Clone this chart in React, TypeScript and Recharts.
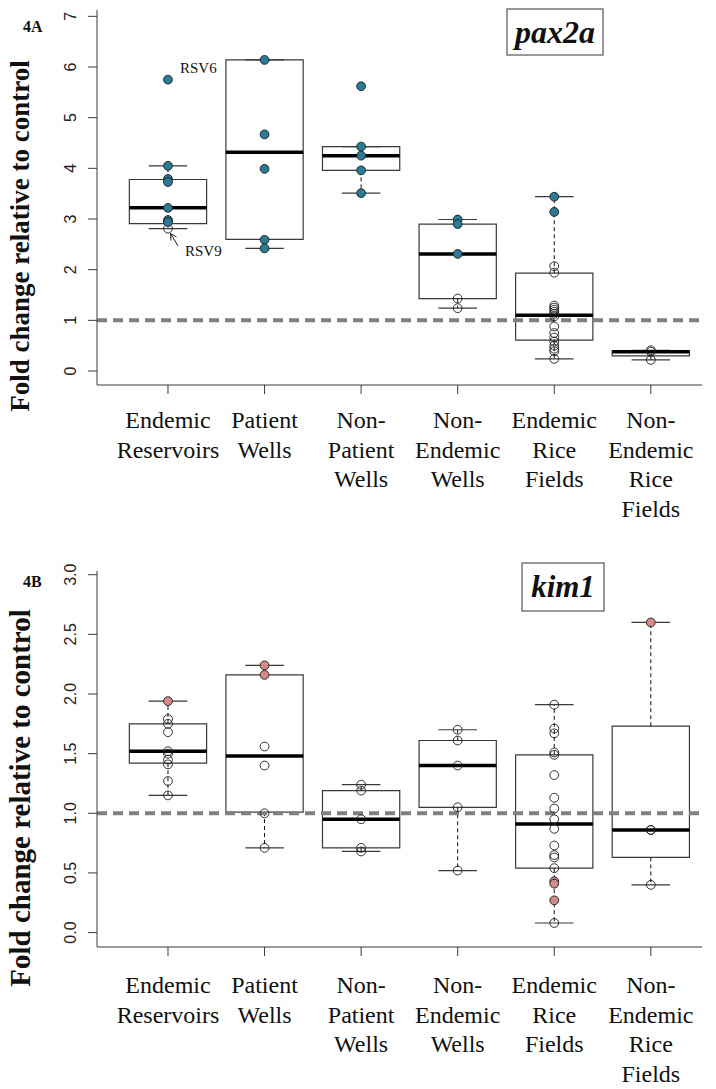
import React from 'react';
import { ComposedChart, XAxis, YAxis, Scatter, ReferenceArea, ReferenceLine } from 'recharts';

const CATEGORY_LINES = [
  ['Endemic', 'Reservoirs'],
  ['Patient', 'Wells'],
  ['Non-', 'Patient', 'Wells'],
  ['Non-', 'Endemic', 'Wells'],
  ['Endemic', 'Rice', 'Fields'],
  ['Non-', 'Endemic', 'Rice', 'Fields'],
];
const CATEGORY_TICKS = [1, 2, 3, 4, 5, 6];

// pax2a box statistics, one entry per category
const PAX2A_LOW = [2.81, 2.42, 3.51, 1.24, 0.24, 0.22];
const PAX2A_Q1 = [2.91, 2.6, 3.96, 1.43, 0.61, 0.3];
const PAX2A_MEDIAN = [3.22, 4.32, 4.25, 2.31, 1.1, 0.38];
const PAX2A_Q3 = [3.78, 6.14, 4.43, 2.9, 1.93, 0.4];
const PAX2A_HIGH = [4.05, 6.14, 4.43, 2.99, 3.44, 0.41];

// pax2a samples: highlighted (filled) and plain (open)
const PAX2A_FILLED = [
  [5.75, 4.05, 3.79, 3.73, 3.22, 2.98, 2.94],
  [6.14, 4.67, 3.99, 2.59, 2.42],
  [5.62, 4.43, 4.25, 3.96, 3.51],
  [2.99, 2.9, 2.31],
  [3.44, 3.14],
  [],
];
const PAX2A_OPEN = [
  [2.81],
  [],
  [],
  [1.43, 1.24],
  [2.07, 1.94, 1.29, 1.25, 1.21, 1.17, 1.13, 1.08, 0.88, 0.75, 0.66, 0.58, 0.5, 0.44, 0.39, 0.24],
  [0.41, 0.38, 0.22],
];
const PAX2A_TICKS = [0, 1, 2, 3, 4, 5, 6, 7];

// kim1 box statistics
const KIM1_LOW = [1.15, 0.71, 0.68, 0.52, 0.08, 0.4];
const KIM1_Q1 = [1.42, 1.01, 0.71, 1.05, 0.54, 0.63];
const KIM1_MEDIAN = [1.52, 1.48, 0.95, 1.4, 0.91, 0.86];
const KIM1_Q3 = [1.75, 2.16, 1.19, 1.61, 1.49, 1.73];
const KIM1_HIGH = [1.94, 2.24, 1.24, 1.7, 1.91, 2.6];

const KIM1_FILLED = [
  [1.94],
  [2.24, 2.16],
  [],
  [],
  [0.43, 0.41, 0.27],
  [2.6],
];
const KIM1_OPEN = [
  [1.79, 1.75, 1.68, 1.52, 1.5, 1.45, 1.41, 1.27, 1.15],
  [1.56, 1.4, 1.0, 0.71],
  [1.24, 1.19, 0.95, 0.71, 0.68],
  [1.7, 1.61, 1.4, 1.05, 0.52],
  [1.91, 1.71, 1.67, 1.51, 1.49, 1.32, 1.13, 1.04, 0.95, 0.87, 0.73, 0.65, 0.63, 0.54, 0.08],
  [0.86, 0.86, 0.4],
];
const KIM1_TICKS = [0, 0.5, 1, 1.5, 2, 2.5, 3];

const TEAL = '#2b7b94';
const PINK = '#d48a88';
const AXIS = '#3a3a3a';
const SERIF = '"Liberation Serif", "Times New Roman", serif';
const SANS = '"Liberation Sans", Arial, sans-serif';

const X_DOMAIN: [number, number] = [0.265, 6.53];
const BOX_HALF = 0.4;
const STAPLE_HALF = 0.2;

type Stats = { low: number[]; q1: number[]; median: number[]; q3: number[]; high: number[] };
type Pt = { x: number; y: number; fill: string };

function buildPoints(filled: number[][], open: number[][], color: string): Pt[] {
  const pts: Pt[] = [];
  open.forEach((vals, i) => vals.forEach((v) => pts.push({ x: i + 1, y: v, fill: 'none' })));
  filled.forEach((vals, i) => vals.forEach((v) => pts.push({ x: i + 1, y: v, fill: color })));
  return pts;
}

const Dot = (props: any) => (
  <circle cx={props.cx} cy={props.cy} r={4.4} fill={props.payload.fill} stroke="#1c1c1c" strokeWidth={0.9} />
);

function CategoryTick({ x, y, payload, offset }: any) {
  const lines = CATEGORY_LINES[payload.value - 1] || [];
  return (
    <g>
      {lines.map((l, i) => (
        <text
          key={i}
          x={x}
          y={y + offset + i * 29.5}
          textAnchor="middle"
          fontFamily={SERIF}
          style={{ fontFamily: SERIF }}
          fontSize={24}
          fill="#111"
        >
          {l}
        </text>
      ))}
    </g>
  );
}

function ValueTick({ y, payload, digits }: any) {
  return (
    <text
      x={71}
      y={y}
      transform={`rotate(-90 71 ${y})`}
      textAnchor="middle"
      dominantBaseline="central"
      fontFamily={SANS}
      fontSize={16}
      fill="#222"
    >
      {Number(payload.value).toFixed(digits)}
    </text>
  );
}

function BoxPanel(props: {
  height: number;
  top: number;
  axisHeight: number;
  labelOffset: number;
  domain: [number, number];
  ticks: number[];
  digits: number;
  stats: Stats;
  points: Pt[];
}) {
  const { stats } = props;
  return (
    <ComposedChart width={716} height={props.height} margin={{ top: props.top, right: 14, bottom: 10, left: 0 }}>
      <XAxis
        type="number"
        dataKey="x"
        domain={X_DOMAIN}
        ticks={CATEGORY_TICKS}
        interval={0}
        allowDataOverflow
        height={props.axisHeight}
        tickSize={9}
        stroke={AXIS}
        tick={(p: any) => <CategoryTick {...p} offset={props.labelOffset} />}
      />
      <YAxis
        type="number"
        dataKey="y"
        domain={props.domain}
        ticks={props.ticks}
        interval={0}
        allowDataOverflow
        width={97}
        tickSize={9}
        stroke={AXIS}
        tick={(p: any) => <ValueTick {...p} digits={props.digits} />}
      />
      {stats.q1.map((q1, i) => (
        <ReferenceArea
          key={`box-${i}`}
          x1={i + 1 - BOX_HALF}
          x2={i + 1 + BOX_HALF}
          y1={q1}
          y2={stats.q3[i]}
          fill="#ffffff"
          fillOpacity={1}
          stroke={AXIS}
          strokeWidth={1.2}
        />
      ))}
      {stats.q3.map((q3, i) => (
        <ReferenceLine
          key={`wu-${i}`}
          segment={[{ x: i + 1, y: q3 }, { x: i + 1, y: stats.high[i] }]}
          stroke="#111"
          strokeWidth={1}
          strokeDasharray="4 3"
        />
      ))}
      {stats.q1.map((q1, i) => (
        <ReferenceLine
          key={`wl-${i}`}
          segment={[{ x: i + 1, y: q1 }, { x: i + 1, y: stats.low[i] }]}
          stroke="#111"
          strokeWidth={1}
          strokeDasharray="4 3"
        />
      ))}
      {stats.high.map((h, i) => (
        <ReferenceLine
          key={`su-${i}`}
          segment={[{ x: i + 1 - STAPLE_HALF, y: h }, { x: i + 1 + STAPLE_HALF, y: h }]}
          stroke={AXIS}
          strokeWidth={1.2}
        />
      ))}
      {stats.low.map((l, i) => (
        <ReferenceLine
          key={`sl-${i}`}
          segment={[{ x: i + 1 - STAPLE_HALF, y: l }, { x: i + 1 + STAPLE_HALF, y: l }]}
          stroke={AXIS}
          strokeWidth={1.2}
        />
      ))}
      {stats.median.map((m, i) => (
        <ReferenceLine
          key={`md-${i}`}
          segment={[{ x: i + 1 - BOX_HALF, y: m }, { x: i + 1 + BOX_HALF, y: m }]}
          stroke="#000"
          strokeWidth={3.5}
        />
      ))}
      <ReferenceLine y={1} stroke="#808080" strokeWidth={4} strokeDasharray="10 6" />
      <Scatter data={props.points} isAnimationActive={false} shape={Dot} />
    </ComposedChart>
  );
}

const pax2aStats: Stats = { low: PAX2A_LOW, q1: PAX2A_Q1, median: PAX2A_MEDIAN, q3: PAX2A_Q3, high: PAX2A_HIGH };
const kim1Stats: Stats = { low: KIM1_LOW, q1: KIM1_Q1, median: KIM1_MEDIAN, q3: KIM1_Q3, high: KIM1_HIGH };

export default function App() {
  return (
    <div style={{ position: 'absolute', left: 0, top: 0, width: 716, height: 1089, background: '#fff' }}>
      <div style={{ position: 'absolute', left: 0, top: 0 }}>
        <BoxPanel
          height={545}
          top={10}
          axisHeight={150}
          labelOffset={32}
          domain={[-0.276, 7.125]}
          ticks={PAX2A_TICKS}
          digits={0}
          stats={pax2aStats}
          points={buildPoints(PAX2A_FILLED, PAX2A_OPEN, TEAL)}
        />
      </div>
      <div style={{ position: 'absolute', left: 0, top: 545 }}>
        <BoxPanel
          height={544}
          top={26}
          axisHeight={132}
          labelOffset={35}
          domain={[-0.121, 3.031]}
          ticks={KIM1_TICKS}
          digits={1}
          stats={kim1Stats}
          points={buildPoints(KIM1_FILLED, KIM1_OPEN, PINK)}
        />
      </div>
      <svg width={716} height={1089} style={{ position: 'absolute', left: 0, top: 0, pointerEvents: 'none' }}>
        <g fontFamily={SERIF} fill="#111">
          <text x={23} y={32} fontSize={16} fontWeight="bold">4A</text>
          <text x={23} y={587} fontSize={16} fontWeight="bold">4B</text>
          <text x={20} y={236} transform="rotate(-90 20 236)" textAnchor="middle" dominantBaseline="central" fontSize={27} fontWeight="bold">
            Fold change relative to control
          </text>
          <text x={20} y={798} transform="rotate(-90 20 798)" textAnchor="middle" dominantBaseline="central" fontSize={29} fontWeight="bold">
            Fold change relative to control
          </text>
          <rect x={507} y={9} width={96} height={46} fill="#fff" stroke="#555" strokeWidth={1.2} />
          <text x={555} y={43} textAnchor="middle" fontSize={32} fontWeight="bold" fontStyle="italic">pax2a</text>
          <rect x={522} y={563} width={82} height={48} fill="#fff" stroke="#555" strokeWidth={1.2} />
          <text x={563} y={597} textAnchor="middle" fontSize={31} fontWeight="bold" fontStyle="italic">kim1</text>
          <text x={180} y={73} fontSize={15}>RSV6</text>
          <text x={185} y={256} fontSize={15}>RSV9</text>
          <path d="M178 246 L170.5 233.5 M170.5 233.5 L171 240.5 M170.5 233.5 L176.5 237" stroke="#222" strokeWidth={1} fill="none" />
        </g>
      </svg>
    </div>
  );
}
